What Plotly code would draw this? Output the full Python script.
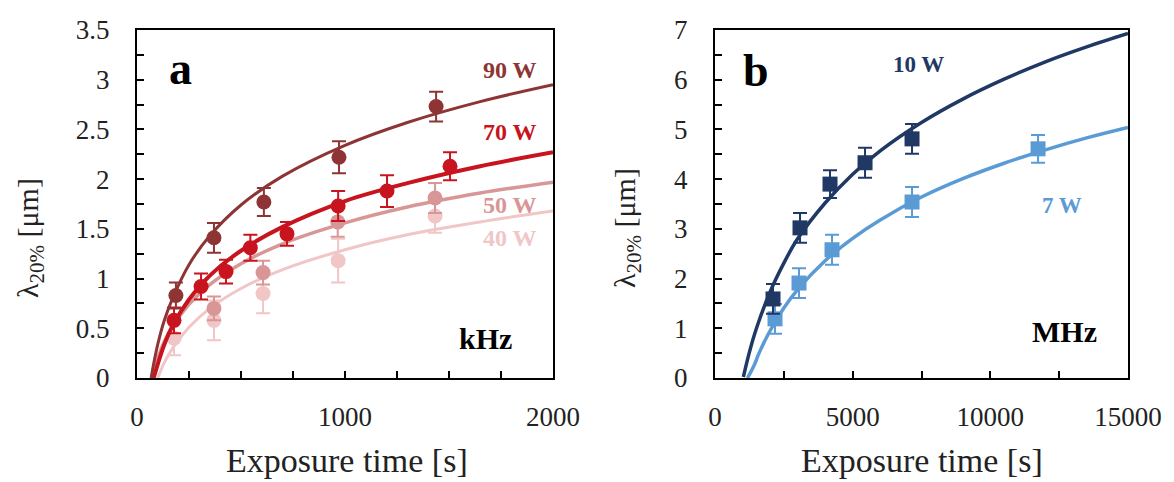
import plotly.graph_objects as go

W, H = 1174, 482
FONT = "Times New Roman, Liberation Serif, serif"

# ---------------- panel a (kHz) ----------------
# measured points: exposure time [s], lambda20% [um], error [um]
t90 = [187, 370, 610, 971, 1438]
y90 = [0.83, 1.41, 1.77, 2.22, 2.73]
e90 = [0.13, 0.15, 0.14, 0.16, 0.15]

t70 = [178, 308, 428, 545, 721, 967, 1202, 1505]
y70 = [0.58, 0.92, 1.07, 1.31, 1.45, 1.73, 1.88, 2.13]
e70 = [0.13, 0.13, 0.12, 0.13, 0.12, 0.15, 0.16, 0.14]

t50 = [370, 606, 965, 1433]
y50 = [0.70, 1.06, 1.57, 1.81]
e50 = [0.12, 0.12, 0.15, 0.15]

t40 = [178, 370, 606, 967, 1433]
y40 = [0.40, 0.58, 0.85, 1.18, 1.63]
e40 = [0.17, 0.20, 0.20, 0.22, 0.17]

# fitted curves, sampled
ft90 = [68, 80, 100, 130, 175, 250, 350, 500, 700, 1000, 1300, 1650, 2000]
fy90 = [0.0, 0.14, 0.34, 0.57, 0.82, 1.14, 1.43, 1.74, 2.03, 2.34, 2.57, 2.78, 2.95]
ft70 = [80, 100, 130, 175, 250, 350, 500, 700, 1000, 1300, 1650, 2000]
fy70 = [0.0, 0.14, 0.33, 0.54, 0.79, 1.03, 1.28, 1.52, 1.78, 1.96, 2.13, 2.27]
ft50 = [71, 100, 130, 175, 250, 350, 500, 700, 1000, 1300, 1650, 2000]
fy50 = [0.0, 0.20, 0.36, 0.53, 0.74, 0.94, 1.15, 1.35, 1.56, 1.72, 1.86, 1.97]
ft40 = [100, 130, 175, 250, 350, 500, 700, 1000, 1300, 1650, 2000]
fy40 = [0.0, 0.15, 0.31, 0.51, 0.70, 0.90, 1.09, 1.29, 1.44, 1.57, 1.68]

# ---------------- panel b (MHz) ----------------
t10 = [2107, 3088, 4177, 5449, 7156]
y10 = [1.59, 3.02, 3.90, 4.33, 4.81]
e10 = [0.30, 0.30, 0.28, 0.30, 0.30]

t7 = [2180, 3051, 4250, 7156, 11733]
y7 = [1.19, 1.91, 2.58, 3.54, 4.61]
e7 = [0.30, 0.30, 0.30, 0.30, 0.28]

ft10 = [1030, 1250, 1500, 2000, 2500, 3000, 4000, 5000, 6000, 7500, 9000, 10500, 12000, 13500, 15000]
fy10 = [0.02, 0.52, 0.99, 1.73, 2.31, 2.80, 3.52, 4.10, 4.57, 5.14, 5.61, 6.01, 6.36, 6.66, 6.93]
ft7 = [1180, 1400, 1600, 2000, 2500, 3000, 4000, 5000, 6000, 7500, 9000, 10500, 12000, 13500, 15000]
fy7 = [0.0, 0.23, 0.50, 0.95, 1.41, 1.78, 2.36, 2.81, 3.18, 3.64, 4.01, 4.32, 4.59, 4.83, 5.04]

C90, C70, C50, C40 = "#8E3434", "#C8141E", "#D99696", "#F0C6C6"
C10, C7 = "#1F3864", "#5B9BD5"

fig = go.Figure()


def add_series(t, y, e, ft, fy, color, symbol, xa, ya, lw):
    fig.add_trace(go.Scatter(x=ft, y=fy, mode="lines", line=dict(color=color, width=lw, shape="spline"),
                             xaxis=xa, yaxis=ya, showlegend=False, hoverinfo="skip"))
    fig.add_trace(go.Scatter(x=t, y=y, mode="markers",
                             marker=dict(color=color, size=15, symbol=symbol),
                             error_y=dict(type="data", array=e, visible=True, color=color,
                                          thickness=2, width=7),
                             xaxis=xa, yaxis=ya, showlegend=False))


add_series(t40, y40, e40, ft40, fy40, C40, "circle", "x", "y", 3)
add_series(t50, y50, e50, ft50, fy50, C50, "circle", "x", "y", 3.5)
add_series(t70, y70, e70, ft70, fy70, C70, "circle", "x", "y", 4)
add_series(t90, y90, e90, ft90, fy90, C90, "circle", "x", "y", 3)
add_series(t7, y7, e7, ft7, fy7, C7, "square", "x2", "y2", 3.5)
add_series(t10, y10, e10, ft10, fy10, C10, "square", "x2", "y2", 3.5)

L_T, L_B = 30, 104
PH = H - L_T - L_B


def px(x):
    return x / W


def py(y):
    return (H - L_B - y) / PH


tick_font = dict(family=FONT, size=27, color="#222222")
common = dict(showline=True, linecolor="black", linewidth=2, mirror=True, ticks="inside",
              ticklen=7, tickwidth=1.5, tickcolor="black", showgrid=False, zeroline=False,
              tickfont=tick_font, automargin=False)

fig.update_layout(
    template="none",
    width=W, height=H, margin=dict(l=0, r=0, t=L_T, b=L_B, autoexpand=False),
    paper_bgcolor="white", plot_bgcolor="white",
    xaxis=dict(domain=[px(137), px(553)], range=[0, 2000], tickvals=[0, 1000, 2000],
               minor=dict(dtick=250, ticks="inside", ticklen=7, tickcolor="black"),
               ticklabelstandoff=14, anchor="y", **common),
    yaxis=dict(domain=[0, 1], range=[0, 3.5], dtick=0.5,
               minor=dict(dtick=0.25, ticks="inside", ticklen=7, tickcolor="black"),
               ticklabelstandoff=20, anchor="x", **common),
    xaxis2=dict(domain=[px(715), px(1128)], range=[0, 15000], dtick=5000, tickformat="d",
                minor=dict(dtick=2500, ticks="inside", ticklen=7, tickcolor="black"),
                ticklabelstandoff=14, anchor="y2", **common),
    yaxis2=dict(domain=[0, 1], range=[0, 7], dtick=1,
                minor=dict(dtick=0.5, ticks="inside", ticklen=7, tickcolor="black"),
                ticklabelstandoff=20, anchor="x2", **common),
)


def note(text, x, y, size, color="black", bold=False, angle=0):
    if bold:
        text = "<b>" + text + "</b>"
    fig.add_annotation(text=text, x=px(x), y=py(y), xref="paper", yref="paper",
                       showarrow=False, xanchor="center", yanchor="middle", textangle=angle,
                       font=dict(family=FONT, size=size, color=color))


# panel labels and series labels
note("a", 180, 68, 46, bold=True)
note("90 W", 510, 70, 24, C90, bold=True)
note("70 W", 510, 132, 24, C70, bold=True)
note("50 W", 510, 205, 24, C50, bold=True)
note("40 W", 510, 238, 24, C40, bold=True)
note("kHz", 485, 338, 30, bold=True)

note("b", 756, 70, 46, bold=True)
note("10 W", 918, 64, 23, C10, bold=True)
note("7 W", 1062, 205, 23, C7, bold=True)
note("MHz", 1064, 331, 30, bold=True)

# axis titles
note("Exposure time [s]", 347, 461, 34, "#222222")
note("Exposure time [s]", 922, 461, 34, "#222222")
note("λ<sub>20%</sub> [μm]", 30, 238, 30, "#222222", angle=-90)
note("λ<sub>20%</sub> [μm]", 627, 228, 30, "#222222", angle=-90)

fig.write_html("out.html")
